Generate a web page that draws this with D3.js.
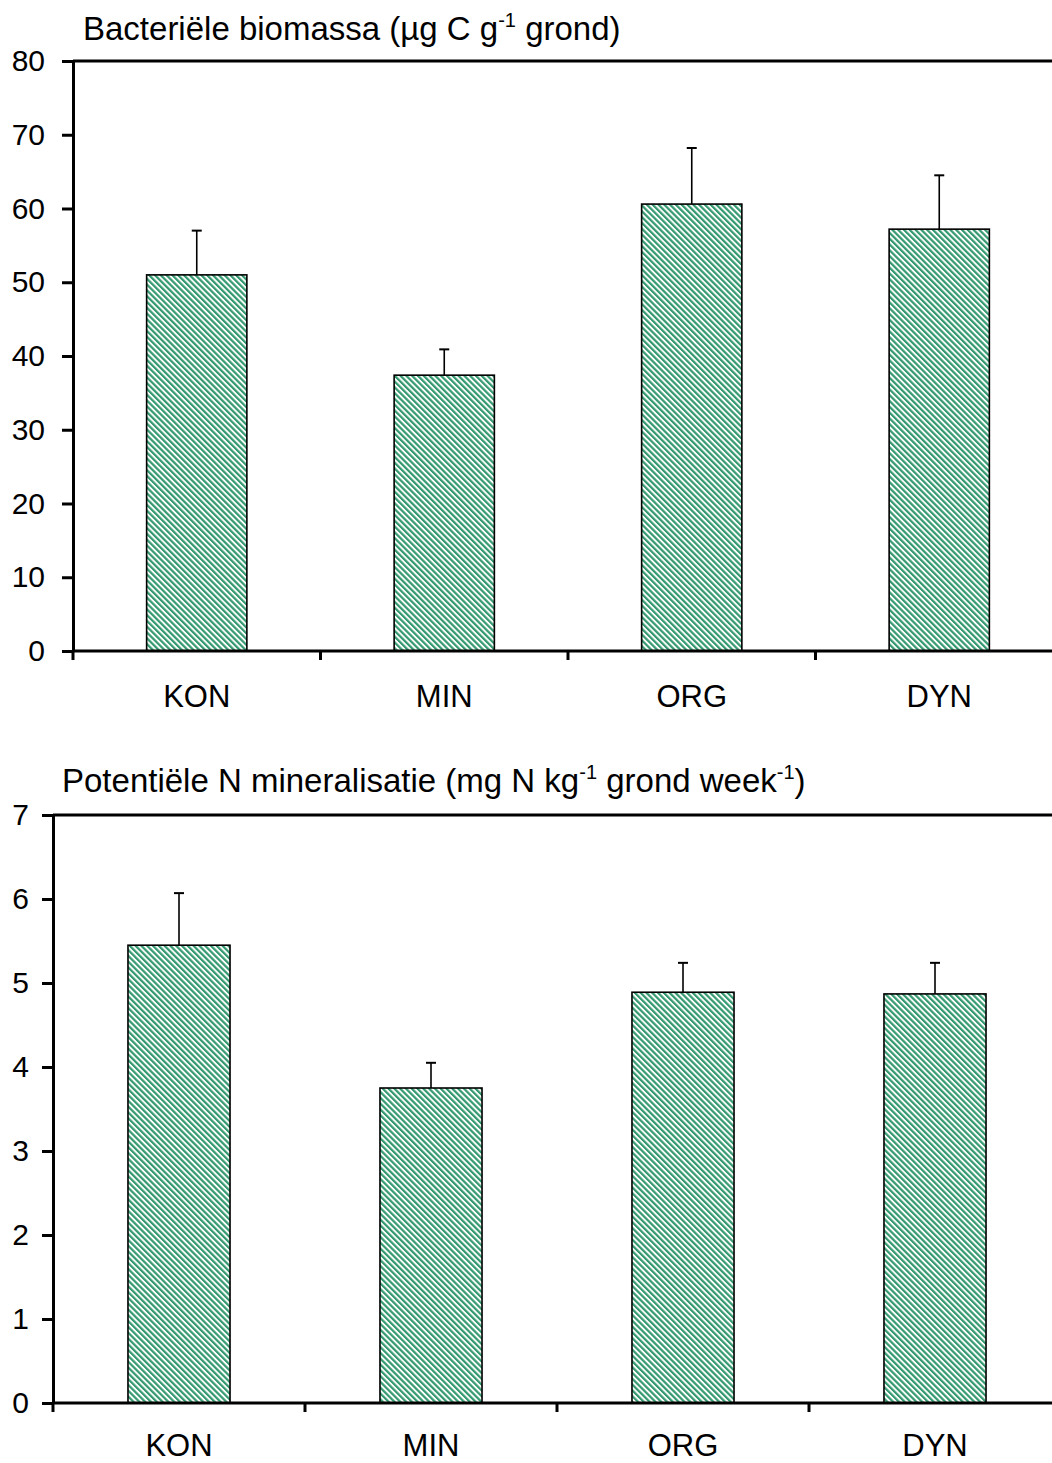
<!DOCTYPE html>
<html lang="nl">
<head>
<meta charset="UTF-8">
<script src="https://cdn.jsdelivr.net/npm/d3@7"></script>
<style>
  body { margin: 0; background: #fff; font-family: "Liberation Sans", Arial, sans-serif; }
  svg { display: block; }
  .tick text { font-family: "Liberation Sans", Arial, sans-serif; fill: #000; }
</style>
</head>
<body>
<svg id="chart" width="1052" height="1463"></svg>
<script>
// data
const categories = ["KON", "MIN", "ORG", "DYN"];
const biomassValues = [51.0, 37.4, 60.6, 57.2];
const biomassErrors = [6.0, 3.5, 7.6, 7.3];
const biomassTicks = [0, 10, 20, 30, 40, 50, 60, 70, 80];
const mineralValues = [5.45, 3.75, 4.89, 4.87];
const mineralErrors = [0.62, 0.30, 0.35, 0.37];
const mineralTicks = [0, 1, 2, 3, 4, 5, 6, 7];

const svg = d3.select("#chart");

// hatch pattern
const defs = svg.append("defs");
const pat = defs.append("pattern")
  .attr("id", "hatch")
  .attr("patternUnits", "userSpaceOnUse")
  .attr("width", 4.1).attr("height", 4.1)
  .attr("patternTransform", "rotate(-45)");
pat.append("rect").attr("width", 4.1).attr("height", 4.1).attr("fill", "#fff");
pat.append("rect").attr("x", 0).attr("width", 2.2).attr("height", 4.1).attr("fill", "#34996f");

function drawPanel(opt) {
  const g = svg.append("g");

  const x = d3.scaleBand()
    .domain(opt.cats)
    .range([opt.left, opt.left + opt.band * opt.cats.length]);

  const y = d3.scaleLinear()
    .domain([0, opt.max])
    .range([opt.bottom, opt.top]);

  const barW = opt.band * 0.405;

  // bars
  g.selectAll(".bar")
    .data(opt.values)
    .enter().append("rect")
    .attr("x", (d, i) => x(opt.cats[i]) + x.bandwidth() / 2 - barW / 2)
    .attr("y", d => y(d))
    .attr("width", barW)
    .attr("height", d => y(0) - y(d))
    .attr("fill", "url(#hatch)")
    .attr("stroke", "#000")
    .attr("stroke-width", 1.6);

  // error bars (upper only)
  opt.values.forEach((v, i) => {
    const cx = x(opt.cats[i]) + x.bandwidth() / 2;
    g.append("line")
      .attr("x1", cx).attr("x2", cx)
      .attr("y1", y(v)).attr("y2", y(v + opt.errors[i]))
      .attr("stroke", "#000").attr("stroke-width", 1.6);
    g.append("line")
      .attr("x1", cx - 5).attr("x2", cx + 5)
      .attr("y1", y(v + opt.errors[i])).attr("y2", y(v + opt.errors[i]))
      .attr("stroke", "#000").attr("stroke-width", 2);
  });

  // top frame line
  g.append("line")
    .attr("x1", opt.left).attr("x2", 1060)
    .attr("y1", opt.top).attr("y2", opt.top)
    .attr("stroke", "#000").attr("stroke-width", 3);

  // y axis
  const yAxis = g.append("g")
    .attr("transform", `translate(${opt.left},0)`)
    .call(d3.axisLeft(y).tickValues(opt.ticks).tickFormat(d3.format("d"))
      .tickSize(11).tickPadding(opt.yPad).tickSizeOuter(0));
  yAxis.select(".domain").attr("stroke-width", 3);
  yAxis.selectAll(".tick line").attr("stroke-width", 3);
  yAxis.selectAll(".tick text").attr("font-size", 30);

  // x axis
  const tickPos = d3.range(opt.cats.length + 1).map(i => opt.left + i * opt.band);
  const xAxis = g.append("g")
    .attr("transform", `translate(0,${opt.bottom})`)
    .call(d3.axisBottom(x).tickSize(0).tickPadding(opt.xPad).tickSizeOuter(0));
  xAxis.select(".domain").remove();
  xAxis.append("line")
    .attr("x1", opt.left).attr("x2", 1060)
    .attr("stroke", "#000").attr("stroke-width", 3);
  xAxis.selectAll(".sep")
    .data(tickPos)
    .enter().append("line")
    .attr("x1", d => d).attr("x2", d => d)
    .attr("y1", 0).attr("y2", 9)
    .attr("stroke", "#000").attr("stroke-width", 3);
  xAxis.selectAll(".tick text").attr("font-size", 31);

  // title
  const t = g.append("text")
    .attr("x", opt.titleX).attr("y", opt.titleY)
    .attr("font-size", 33)
    .attr("fill", "#000");
  opt.title.forEach(part => {
    const ts = t.append("tspan").text(part.t);
    if (part.sup) ts.attr("font-size", 20).attr("dy", -13);
    else if (part.after) ts.attr("dy", 13);
  });
}

drawPanel({
  cats: categories, values: biomassValues, errors: biomassErrors, ticks: biomassTicks,
  max: 80, left: 73, band: 247.5, top: 61, bottom: 651, yPad: 17, xPad: 34,
  titleX: 83, titleY: 40,
  title: [{t: "Bacteriële biomassa (µg C g"}, {t: "-1", sup: true}, {t: " grond)", after: true}]
});

drawPanel({
  cats: categories, values: mineralValues, errors: mineralErrors, ticks: mineralTicks,
  max: 7, left: 53, band: 252, top: 815, bottom: 1403, yPad: 13, xPad: 31,
  titleX: 62, titleY: 792,
  title: [{t: "Potentiële N mineralisatie (mg N kg"}, {t: "-1", sup: true},
          {t: " grond week", after: true}, {t: "-1", sup: true}, {t: ")", after: true}]
});
</script>
</body>
</html>
